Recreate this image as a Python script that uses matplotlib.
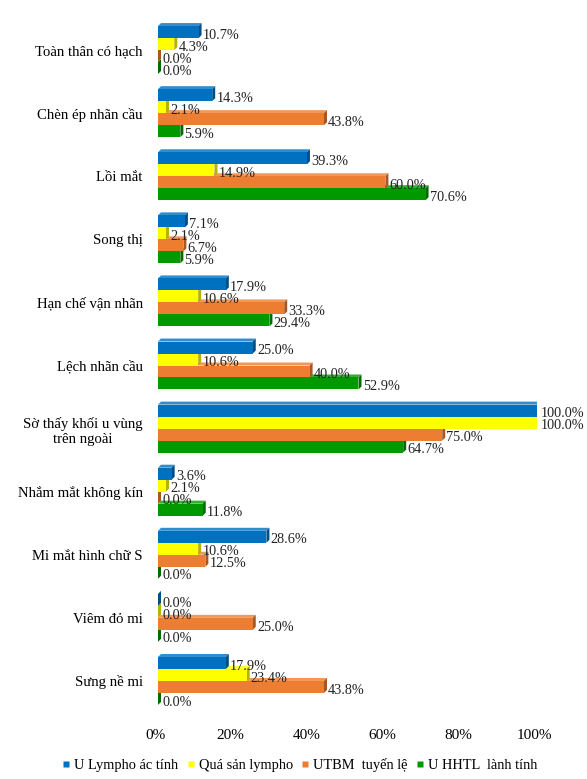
import matplotlib
matplotlib.use("Agg")
from matplotlib import pyplot as plt
from matplotlib.patches import Polygon
from matplotlib.lines import Line2D
import matplotlib.colors as mcolors
import matplotlib.transforms as mtransforms

plt.rcParams['font.family'] = ['Liberation Serif', 'DejaVu Serif']

categories = ["Toàn thân có hạch", "Chèn ép nhãn cầu", "Lồi mắt", "Song thị",
              "Hạn chế vận nhãn", "Lệch nhãn cầu", "Sờ thấy khối u vùng\ntrên ngoài",
              "Nhắm mắt không kín", "Mi mắt hình chữ S", "Viêm đỏ mi", "Sưng nề mi"]
series_names = ["U Lympho ác tính", "Quá sản lympho", "UTBM  tuyến lệ", "U HHTL  lành tính"]
lympho = [10.7, 14.3, 39.3, 7.1, 17.9, 25.0, 100.0, 3.6, 28.6, 0.0, 17.9]
qua_san = [4.3, 2.1, 14.9, 2.1, 10.6, 10.6, 100.0, 2.1, 10.6, 0.0, 23.4]
utbm = [0.0, 43.8, 60.0, 6.7, 33.3, 40.0, 75.0, 0.0, 12.5, 25.0, 43.8]
hhtl = [0.0, 5.9, 70.6, 5.9, 29.4, 52.9, 64.7, 11.8, 0.0, 0.0, 0.0]
values = [lympho, qua_san, utbm, hhtl]
colors = ["#0070C0", "#FFFF00", "#ED7D31", "#009A00"]


def shade(c, f):
    r, g, b = mcolors.to_rgb(c)
    if f < 1:
        return (r * f, g * f, b * f)
    return (r + (1 - r) * (f - 1), g + (1 - g) * (f - 1), b + (1 - b) * (f - 1))


W, H = 587, 779
fig = plt.figure(figsize=(W / 100, H / 100), dpi=100)
ax = fig.add_axes([158 / W, 1 - 712.5 / H, 379 / W, (712.5 - 18.5) / H])
ax.set_xlim(0, 100)
ax.set_ylim(10.5, -0.5)

h = 0.19
# depth of the 3D effect in data units (about 3 px)
dx = 3 * 100 / 379
dy = 3 * 11 / (712.5 - 18.5)

for j in range(3, -1, -1):
    c = colors[j]
    for i, v in enumerate(values[j]):
        yc = i + (j - 1.5) * h
        y0, y1 = yc - h / 2, yc + h / 2
        # top face
        ax.add_patch(Polygon([(0, y0), (v, y0), (v + dx, y0 - dy), (dx, y0 - dy)],
                             closed=True, facecolor=shade(c, 1.2), edgecolor='none', zorder=2 + (3 - j)))
        # side face
        ax.add_patch(Polygon([(v, y0), (v + dx, y0 - dy), (v + dx, y1 - dy), (v, y1)],
                             closed=True, facecolor=shade(c, 0.7), edgecolor='none', zorder=2 + (3 - j)))
        # front face
        ax.barh(yc, v, height=h, color=c, edgecolor='none', zorder=2 + (3 - j))
        ax.text(v + dx + 0.3, yc + 0.05, f"{v:.1f}%", ha='left', va='center',
                fontsize=10.3, color='#222222', zorder=10)

ax.set_yticks(range(len(categories)))
ax.set_yticklabels(categories, fontsize=10.6, multialignment='center')
ax.set_xticks([0, 20, 40, 60, 80, 100])
ax.set_xticklabels(["0%", "20%", "40%", "60%", "80%", "100%"], fontsize=11)
ax.tick_params(axis='both', length=0)
ax.tick_params(axis='x', pad=12)
ax.tick_params(axis='y', pad=11)
shift = mtransforms.ScaledTranslation(-3 / 100, 0, fig.dpi_scale_trans)
for lab in ax.get_xticklabels():
    lab.set_transform(lab.get_transform() + shift)
for s in ax.spines.values():
    s.set_visible(False)

handles = [Line2D([], [], marker='s', linestyle='none', markersize=5,
                  markerfacecolor=c, markeredgecolor='none') for c in colors]
fig.legend(handles, series_names, loc='center', bbox_to_anchor=(300 / W, 1 - 765 / H),
           ncol=4, frameon=False, fontsize=10.4, handlelength=0.5, handletextpad=0.3,
           columnspacing=0.6, borderpad=0)

fig.savefig("out.png", dpi=100)
